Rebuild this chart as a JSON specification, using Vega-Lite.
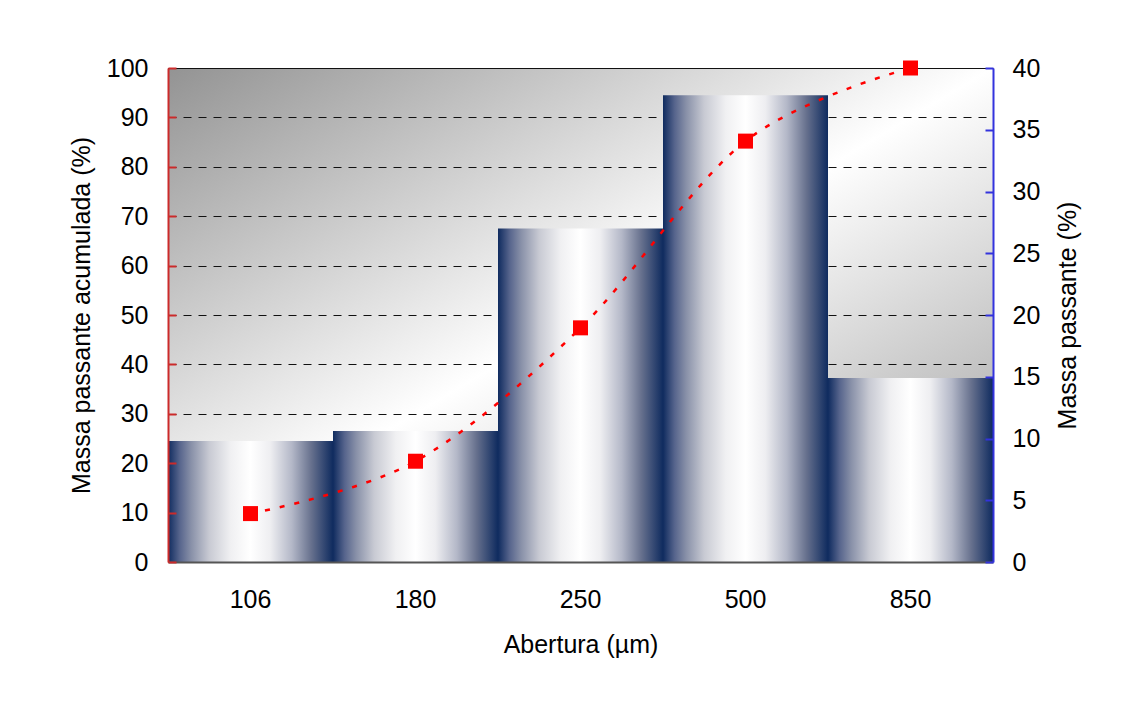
{
  "$schema": "https://vega.github.io/schema/vega-lite/v6.json",
  "width": 825,
  "height": 494,
  "autosize": {"type": "none"},
  "padding": {"left": 168, "top": 68, "right": 134, "bottom": 165},
  "background": "white",
  "view": {
    "stroke": null,
    "fill": {
      "gradient": "linear", "x1": 0, "y1": 0, "x2": 1, "y2": 1,
      "stops": [
        {"offset": 0, "color": "#939393"},
        {"offset": 0.5, "color": "#ffffff"},
        {"offset": 1, "color": "#9a9a9a"}
      ]
    }
  },
  "config": {
    "font": "Liberation Sans",
    "axis": {
      "labelFont": "Liberation Sans", "labelFontSize": 25, "labelColor": "#000",
      "titleFont": "Liberation Sans", "titleFontSize": 25, "titleFontWeight": "normal", "titleColor": "#000"
    }
  },
  "data": {
    "values": [
      {"abertura": "106", "passante": 9.8, "acumulada": 9.8},
      {"abertura": "180", "passante": 10.6, "acumulada": 20.4},
      {"abertura": "250", "passante": 27.0, "acumulada": 47.4},
      {"abertura": "500", "passante": 37.8, "acumulada": 85.2},
      {"abertura": "850", "passante": 14.9, "acumulada": 100}
    ]
  },
  "encoding": {
    "x": {
      "field": "abertura", "type": "ordinal", "sort": null,
      "scale": {"paddingInner": 0, "paddingOuter": 0},
      "axis": {
        "title": "Abertura (µm)", "labelAngle": 0, "ticks": false,
        "domainColor": "#555555", "domainWidth": 2,
        "labelPadding": 25, "titlePadding": 20, "zindex": 1
      }
    }
  },
  "layer": [
    {
      "mark": {
        "type": "bar",
        "color": {
          "gradient": "linear", "x1": 0, "y1": 0, "x2": 1, "y2": 0,
          "stops": [
            {"offset": 0, "color": "#0f2b5f"},
            {"offset": 0.07, "color": "#56648c"},
            {"offset": 0.14, "color": "#8890a8"},
            {"offset": 0.25, "color": "#c8cad3"},
            {"offset": 0.38, "color": "#f0f0f2"},
            {"offset": 0.5, "color": "#ffffff"},
            {"offset": 0.62, "color": "#eeeef1"},
            {"offset": 0.75, "color": "#b4b8c8"},
            {"offset": 0.87, "color": "#66708d"},
            {"offset": 1, "color": "#0f2b5f"}
          ]
        }
      },
      "encoding": {
        "y": {
          "field": "passante", "type": "quantitative",
          "scale": {"domain": [0, 40]},
          "axis": {
            "orient": "right", "title": "Massa passante (%)",
            "values": [0, 5, 10, 15, 20, 25, 30, 35, 40],
            "grid": false, "tickSize": -8, "tickColor": "#3333dd", "tickWidth": 2,
            "domainColor": "#3333dd", "domainWidth": 2,
            "labelPadding": 27, "titleAngle": -90, "titleBaseline": "top", "titlePadding": 16, "zindex": 1
          }
        }
      }
    },
    {
      "encoding": {
        "y": {
          "field": "acumulada", "type": "quantitative",
          "scale": {"domain": [0, 100]}
        }
      },
      "layer": [
        {
          "mark": {"type": "line", "color": "#ff0000", "strokeDash": [5, 10], "strokeWidth": 2.5, "interpolate": "cardinal"},
          "encoding": {
            "y": {
              "field": "acumulada", "type": "quantitative",
              "axis": {
                "orient": "left", "title": null,
                "values": [0, 10, 20, 30, 40, 50, 60, 70, 80, 90, 100],
                "grid": true, "gridColor": "#111111",
                "gridDash": {"condition": {"test": "datum.value == 100", "value": []}, "value": [8, 7]},
                "domain": false, "ticks": false, "labels": false, "offset": 0, "zindex": 0
              }
            }
          }
        },
        {
          "mark": {"type": "point", "shape": "square", "filled": true, "size": 225, "color": "#ff0000", "opacity": 1},
          "encoding": {
            "y": {
              "field": "acumulada", "type": "quantitative",
              "axis": {
                "orient": "left", "title": "Massa passante acumulada (%)",
                "values": [0, 10, 20, 30, 40, 50, 60, 70, 80, 90, 100],
                "grid": false,
                "tickSize": -8, "tickColor": "#cc2a2a", "tickWidth": 2,
                "domainColor": "#cc2a2a", "domainWidth": 2,
                "labelPadding": 28, "titlePadding": 12, "offset": 0, "zindex": 1
              }
            }
          }
        }
      ],
      "resolve": {"axis": {"y": "independent"}}
    }
  ],
  "resolve": {"scale": {"y": "independent"}}
}
